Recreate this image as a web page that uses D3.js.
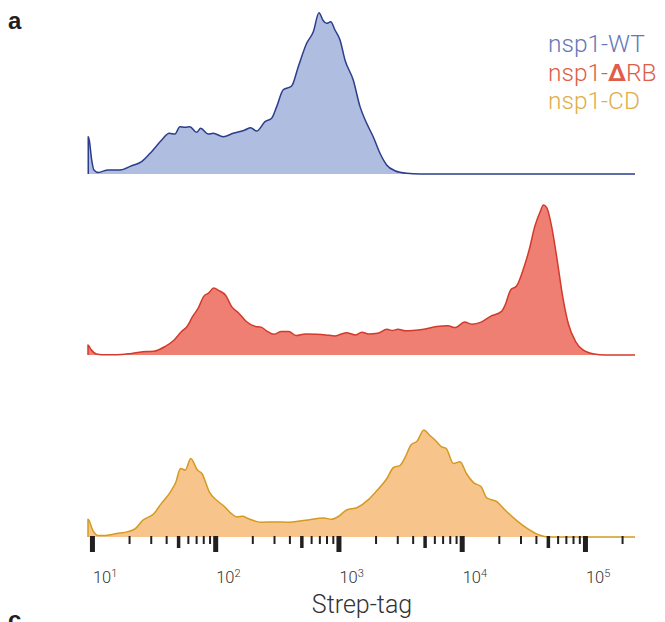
<!DOCTYPE html>
<html>
<head>
<meta charset="utf-8">
<script src="https://cdn.jsdelivr.net/npm/d3@7"></script>
<style>
  html, body { margin: 0; padding: 0; background: #fff; }
  svg { display: block; font-family: Roboto, "Liberation Sans", sans-serif; }
</style>
</head>
<body>
<div id="chart"></div>
<script>
// Strep-tag flow histograms, one ridge per nsp1 construct.
// x = log10(intensity), y = relative event density

const seriesNames = ['nsp1-WT', 'nsp1-ΔRB', 'nsp1-CD'];

const wtData = [
  [0.970, 23], [0.978, 21], [0.998, 8.6], [1.016, 2.5], [1.051, 1.0], [1.132, 2.5],
  [1.227, 2.5], [1.322, 5.1], [1.403, 7.6], [1.484, 13.8], [1.566, 21], [1.627, 25.1],
  [1.673, 24.7], [1.714, 29.2], [1.755, 28.8], [1.795, 29.2], [1.849, 25.7], [1.882, 28.2],
  [1.944, 24.7], [1.984, 25.1], [2.065, 23], [2.146, 25.1], [2.241, 27.2], [2.288, 28.6],
  [2.336, 26.5], [2.404, 32.3], [2.458, 34.4], [2.499, 41.6], [2.552, 52], [2.620, 54.3],
  [2.674, 66.2], [2.742, 80.7], [2.796, 87.8], [2.842, 99.6], [2.877, 94.6], [2.904, 93],
  [2.937, 94], [2.972, 88.9], [3.013, 82.7], [3.053, 70.4], [3.120, 58], [3.175, 41.6],
  [3.229, 31.3], [3.282, 23], [3.337, 12.8], [3.391, 5.6], [3.458, 2.0], [3.553, 0.4],
  [3.661, 0], [5.406, 0]
];

const drbData = [
  [0.968, 6.2], [0.991, 3.5], [1.037, 0.6], [1.082, 0.2], [1.202, 0.2], [1.322, 1.0],
  [1.442, 2.1], [1.502, 2.3], [1.592, 5.2], [1.667, 9.3], [1.727, 14.5], [1.772, 17.6],
  [1.817, 23.8], [1.862, 28.9], [1.907, 36.2], [1.946, 38.2], [1.988, 41.3], [2.027, 39.9],
  [2.087, 36.6], [2.132, 30.0], [2.192, 25.8], [2.252, 20.7], [2.327, 17.6], [2.372, 17.2],
  [2.417, 14.9], [2.477, 12.8], [2.537, 14.5], [2.597, 14.5], [2.657, 12.0], [2.732, 13.0],
  [2.822, 12.8], [2.897, 12.4], [2.973, 11.8], [3.063, 13.8], [3.138, 12.4], [3.189, 14.1],
  [3.243, 13.0], [3.318, 13.4], [3.393, 15.9], [3.438, 15.1], [3.483, 15.9], [3.543, 14.9],
  [3.603, 15.1], [3.693, 15.9], [3.798, 17.6], [3.888, 18.0], [3.948, 16.9], [4.023, 20.3],
  [4.083, 19.0], [4.158, 20.3], [4.233, 23.8], [4.323, 26.9], [4.353, 31.0], [4.398, 40.3],
  [4.443, 42.4], [4.503, 53.7], [4.548, 65.1], [4.594, 79.6], [4.639, 88.9], [4.663, 92.6],
  [4.690, 91.0], [4.729, 79.6], [4.774, 58.9], [4.819, 36.2], [4.864, 19.6], [4.924, 8.3],
  [4.984, 3.1], [5.074, 0.6], [5.164, 0], [5.406, 0]
];

const cdData = [
  [0.968, 10.9], [1.007, 4.1], [1.046, 1.0], [1.112, 1.0], [1.202, 2.1], [1.292, 3.3],
  [1.352, 5.2], [1.412, 10.3], [1.502, 14.4], [1.562, 20.6], [1.637, 27.9], [1.682, 34.1],
  [1.718, 42.3], [1.757, 41.3], [1.802, 48.5], [1.856, 41.3], [1.892, 39.2], [1.952, 27.9],
  [2.012, 22.7], [2.072, 19.0], [2.132, 14.4], [2.177, 12.4], [2.222, 12.8], [2.267, 11.4],
  [2.372, 9.1], [2.492, 9.3], [2.582, 9.1], [2.732, 10.3], [2.882, 11.8], [2.942, 10.9],
  [3.002, 12.8], [3.063, 16.5], [3.153, 18.2], [3.243, 23.1], [3.303, 27.9], [3.393, 36.1],
  [3.447, 42.9], [3.498, 44.0], [3.543, 49.5], [3.588, 56.8], [3.639, 59.2], [3.693, 66.0],
  [3.738, 63.0], [3.783, 59.9], [3.837, 55.7], [3.873, 54.7], [3.933, 45.4], [3.987, 46.4],
  [4.038, 39.2], [4.098, 33.4], [4.158, 31.0], [4.203, 24.1], [4.278, 22.1], [4.354, 16.5],
  [4.444, 10.3], [4.534, 5.2], [4.624, 1.4], [4.714, 0], [5.406, 0]
];

const xDomainExp = [0.968, 5.406];
const majorExps = [1, 2, 3, 4, 5];

const W = 665, H = 622;
const rows = [
  { name: seriesNames[0], data: wtData, base: 174, fill: '#aebde0', stroke: '#2c3d8c', text: '#6677b8' },
  { name: seriesNames[1], data: drbData, base: 355, fill: '#ef7f72', stroke: '#d23b2b', text: '#df5d49' },
  { name: seriesNames[2], data: cdData, base: 537, fill: '#f7c58b', stroke: '#d49a22', text: '#e0ae48' }
];
const rowHeight = 162; // px for 100 units, shared by all rows

const svg = d3.select('#chart').append('svg')
  .attr('width', W).attr('height', H);

const x = d3.scaleLog()
  .domain(xDomainExp.map(e => 10 ** e))
  .range([88, 635]);

rows.forEach(r => {
  const y = d3.scaleLinear().domain([0, 100]).range([r.base, r.base - rowHeight]);
  const area = d3.area()
    .x(d => x(10 ** d[0])).y0(y(0)).y1(d => y(d[1]))
    .curve(d3.curveMonotoneX);
  const line = d3.line()
    .x(d => x(10 ** d[0])).y(d => y(d[1]))
    .curve(d3.curveMonotoneX);
  const g = svg.append('g');
  g.append('path').attr('d', area(r.data)).attr('fill', r.fill);
  // stroke also runs up the left edge from the baseline
  g.append('path')
    .attr('d', line([[r.data[0][0], 0], ...r.data]))
    .attr('fill', 'none').attr('stroke', r.stroke)
    .attr('stroke-width', 1.5).attr('stroke-linejoin', 'round');
});

// x axis: log ticks, majors heavy, 5x medium, rest light
const axisG = svg.append('g')
  .attr('transform', `translate(0,${rows[2].base - 1})`)
  .call(d3.axisBottom(x).tickValues(x.ticks()).tickFormat('').tickSizeOuter(0));
axisG.select('.domain').remove();
const mant = d => Math.round(d / 10 ** Math.floor(Math.log10(d) + 1e-9));
axisG.selectAll('.tick line')
  .attr('stroke', '#231f20')
  .attr('y2', d => mant(d) === 1 ? 16 : mant(d) === 5 ? 12 : 8)
  .attr('stroke-width', d => mant(d) === 1 ? 5 : mant(d) === 5 ? 3.5 : 2);

const labG = svg.append('g')
  .attr('fill', '#333').attr('font-weight', 300);
majorExps.forEach(k => {
  const t = labG.append('text')
    .attr('x', x(10 ** k) + 1).attr('y', 583)
    .attr('font-size', 16.5);
  t.append('tspan').text('10');
  t.append('tspan').attr('dy', -6).attr('font-size', 11).text(k);
});

svg.append('text')
  .attr('x', 362).attr('y', 613)
  .attr('text-anchor', 'middle')
  .attr('font-size', 25).attr('font-weight', 300)
  .attr('fill', '#333')
  .text('Strep-tag');

// legend
const leg = svg.append('g').attr('font-size', 24.5).attr('font-weight', 300);
rows.forEach((r, i) => {
  const t = leg.append('text')
    .attr('x', 548).attr('y', 52 + i * 28.5)
    .attr('fill', r.text);
  if (r.name.includes('Δ')) {
    const [a, b] = r.name.split('Δ');
    t.append('tspan').text(a);
    t.append('tspan').attr('font-weight', 700).text('Δ');
    t.append('tspan').text(b);
  } else {
    t.text(r.name);
  }
});

// panel letters
svg.append('text').attr('x', 8).attr('y', 29)
  .attr('font-size', 24).attr('font-weight', 700)
  .attr('font-family', '"Liberation Sans", Arial, sans-serif')
  .attr('fill', '#231f20').text('a');
svg.append('text').attr('x', 8).attr('y', 628)
  .attr('font-size', 24).attr('font-weight', 700)
  .attr('font-family', '"Liberation Sans", Arial, sans-serif')
  .attr('fill', '#231f20').text('c');
</script>
</body>
</html>
